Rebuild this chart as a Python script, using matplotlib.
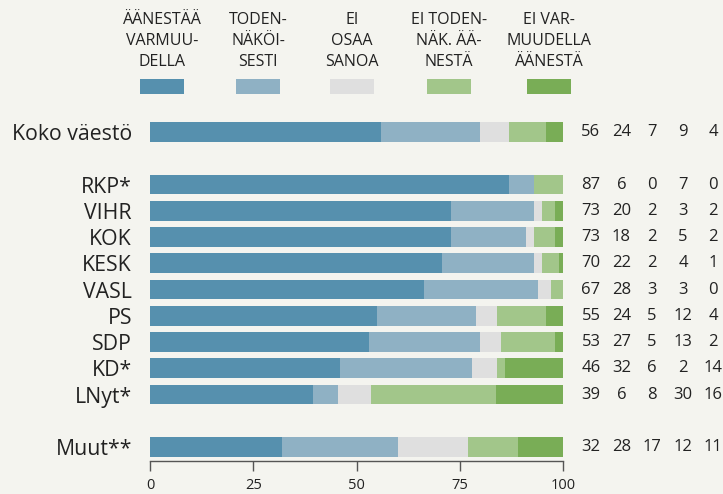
import matplotlib
matplotlib.use("Agg")
import matplotlib.pyplot as plt
import matplotlib.transforms as mtransforms
import numpy as np

plt.rcParams['font.family'] = ['Open Sans', 'DejaVu Sans']

categories = ["Koko väestö", "RKP*", "VIHR", "KOK", "KESK", "VASL", "PS", "SDP", "KD*", "LNyt*", "Muut**"]
positions = [0, 2, 3, 4, 5, 6, 7, 8, 9, 10, 12]

series_names = ["ÄÄNESTÄÄ\nVARMUU-\nDELLA", "TODEN-\nNÄKÖI-\nSESTI", "EI\nOSAA\nSANOA",
                "EI TODEN-\nNÄK. ÄÄ-\nNESTÄ", "EI VAR-\nMUUDELLA\nÄÄNESTÄ"]
varmasti        = [56, 87, 73, 73, 70, 67, 55, 53, 46, 39, 32]
todennakoisesti = [24, 6, 20, 18, 22, 28, 24, 27, 32, 6, 28]
ei_osaa         = [7, 0, 2, 2, 2, 3, 5, 5, 6, 8, 17]
ei_todennak     = [9, 7, 3, 5, 4, 3, 12, 13, 2, 30, 12]
ei_varmasti     = [4, 0, 2, 2, 1, 0, 4, 2, 14, 16, 11]

colors = ["#5690ae", "#8fb1c4", "#dfdfdf", "#a2c68a", "#79ad56"]
bg = "#f4f4ef"
txt = "#222222"

data = np.array([varmasti, todennakoisesti, ei_osaa, ei_todennak, ei_varmasti], dtype=float)
shares = data / data.sum(axis=0) * 100

fig = plt.figure(figsize=(7.23, 4.94), dpi=100, facecolor=bg)
ax = fig.add_axes([150/723, 1 - 461/494, 413/723, 361/494])
ax.set_facecolor(bg)

left = np.zeros(len(categories))
for i in range(5):
    ax.barh(positions, shares[i], left=left, height=0.76, color=colors[i], linewidth=0)
    left += shares[i]

ax.set_xlim(0, 100)
ax.set_ylim(12.533, -1.219)
ax.set_yticks(positions)
ax.set_yticklabels(categories, fontsize=15.3, color=txt)
ax.tick_params(axis='y', length=0, pad=13)
ax.set_xticks([0, 25, 50, 75, 100])
ax.tick_params(axis='x', length=7, width=1, color="#555555", labelsize=10.5,
               labelcolor=txt, pad=5)
for s in ["top", "right", "left"]:
    ax.spines[s].set_visible(False)
ax.spines["bottom"].set_color("#555555")
ax.spines["bottom"].set_linewidth(1)

# numbers on the right
trans = mtransforms.blended_transform_factory(fig.transFigure, ax.transData)
col_x = [591, 621.5, 652, 683, 713]
for j, p in enumerate(positions):
    for i in range(5):
        ax.text(col_x[i] / 723, p, f"{int(data[i, j])}", transform=trans,
                ha="center", va="center", fontsize=12, color=txt)

# legend
sw_cx = [162, 258, 352, 449, 549]
for i in range(5):
    cx = sw_cx[i] / 723
    fig.patches.append(plt.Rectangle((cx - 22/723, 1 - 94/494), 44/723, 15/494,
                                     transform=fig.transFigure, color=colors[i], linewidth=0))
    fig.text(cx, 1 - 41/494, series_names[i], ha="center", va="center", fontsize=11.5,
             color=txt, linespacing=1.4)

fig.savefig("out.png", dpi=100, facecolor=bg)
